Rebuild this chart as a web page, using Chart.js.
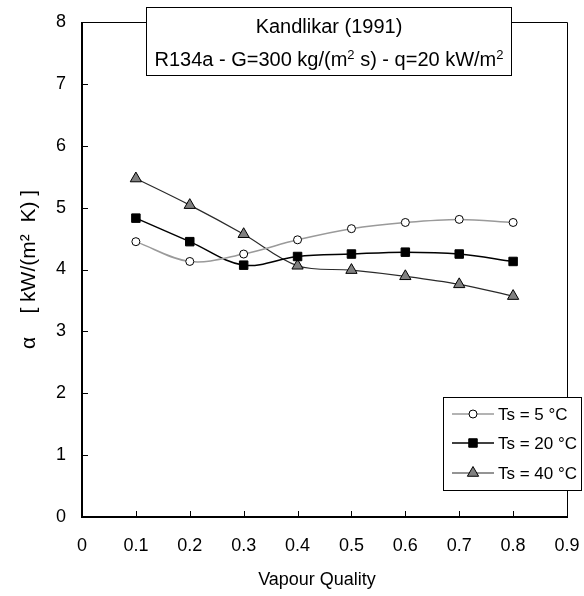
<!DOCTYPE html>
<html>
<head>
<meta charset="utf-8">
<script src="https://cdn.jsdelivr.net/npm/chart.js@4.4.0/dist/chart.umd.min.js"></script>
<style>
  body { margin: 0; background: #fff; }
</style>
</head>
<body>
<canvas id="myChart" width="584" height="596"></canvas>
<script>
// données
var qualite = [0.1, 0.2, 0.3, 0.4, 0.5, 0.6, 0.7, 0.8];
var alphaTs5 = [4.45, 4.13, 4.25, 4.48, 4.66, 4.76, 4.81, 4.76];
var alphaTs20 = [4.83, 4.45, 4.07, 4.21, 4.25, 4.28, 4.25, 4.13];
var alphaTs40 = [5.47, 5.04, 4.57, 4.06, 3.99, 3.89, 3.76, 3.57];
var nomsSeries = ["Ts = 5 °C", "Ts = 20 °C", "Ts = 40 °C"];
var titreLigne1 = "Kandlikar (1991)";
// morceaux de la 2e ligne : [texte, exposant ?]
var titreLigne2 = [["R134a - G=300 kg/(m", false], ["2", true], [" s) - q=20 kW/m", false], ["2", true]];
var titreX = "Vapour Quality   ";
var titreY = "\u03B1    [ kW/(m\u00B2  K) ]";
var xMin = 0, xMax = 0.9, xPas = 0.1;
var yMin = 0, yMax = 8, yPas = 1;

var police = "'Liberation Sans', Arial, sans-serif";

function points(ys) {
  return qualite.map(function (x, i) { return { x: x, y: ys[i] }; });
}

// cadre + petites graduations vers l'intérieur
var cadrePlugin = {
  id: "cadre",
  beforeDatasetsDraw: function (chart) {
    var ctx = chart.ctx;
    var a = chart.chartArea;
    var sx = chart.scales.x, sy = chart.scales.y;
    ctx.save();
    ctx.strokeStyle = "#000";
    // haut et droite, fins
    ctx.lineWidth = 1;
    ctx.beginPath();
    ctx.moveTo(a.left, a.top + 0.5);
    ctx.lineTo(a.right + 0.5, a.top + 0.5);
    ctx.lineTo(a.right + 0.5, a.bottom);
    ctx.stroke();
    // graduations
    ctx.beginPath();
    for (var v = yMin + yPas; v < yMax; v += yPas) {
      var py = Math.round(sy.getPixelForValue(v)) + 0.5;
      ctx.moveTo(a.left, py);
      ctx.lineTo(a.left + 6, py);
    }
    for (var k = 1; k <= Math.round((xMax - xMin) / xPas); k++) {
      var px = Math.round(sx.getPixelForValue(xMin + k * xPas)) + 0.5;
      ctx.moveTo(px, a.bottom);
      ctx.lineTo(px, a.bottom - 6);
    }
    ctx.stroke();
    // axes gauche et bas, épais
    ctx.lineWidth = 2;
    ctx.beginPath();
    ctx.moveTo(a.left, a.top);
    ctx.lineTo(a.left, a.bottom);
    ctx.lineTo(a.right + 1, a.bottom);
    ctx.stroke();
    ctx.restore();
  }
};

function dessinerMarqueur(ctx, ds, x, y) {
  ctx.save();
  ctx.fillStyle = ds.pointBackgroundColor;
  ctx.strokeStyle = ds.pointBorderColor;
  ctx.lineWidth = ds.pointBorderWidth;
  var r = ds.pointRadius;
  ctx.beginPath();
  if (ds.pointStyle === "circle") {
    ctx.arc(x, y, r, 0, Math.PI * 2);
  } else if (ds.pointStyle === "rect") {
    var s = r * Math.SQRT1_2;
    ctx.rect(x - s, y - s, 2 * s, 2 * s);
  } else {
    ctx.moveTo(x, y - r);
    ctx.lineTo(x + r * 0.866, y + r * 0.5);
    ctx.lineTo(x - r * 0.866, y + r * 0.5);
    ctx.closePath();
  }
  ctx.fill();
  ctx.stroke();
  ctx.restore();
}

// boîte de titre et légende, par-dessus le cadre
var boitesPlugin = {
  id: "boites",
  afterDraw: function (chart) {
    var ctx = chart.ctx;
    ctx.save();
    // titre
    var bx = 146.5, by = 7.5, bw = 365, bh = 68;
    ctx.fillStyle = "#fff";
    ctx.fillRect(bx, by, bw, bh);
    ctx.strokeStyle = "#000";
    ctx.lineWidth = 1;
    ctx.strokeRect(bx, by, bw, bh);
    var cx = bx + bw / 2;
    ctx.fillStyle = "#000";
    ctx.textBaseline = "alphabetic";
    ctx.font = "20px " + police;
    ctx.textAlign = "center";
    ctx.fillText(titreLigne1, cx, 33);
    // ligne 2 avec exposants
    var total = 0;
    titreLigne2.forEach(function (m) {
      ctx.font = (m[1] ? "13px " : "20px ") + police;
      total += ctx.measureText(m[0]).width;
    });
    var xx = cx - total / 2;
    ctx.textAlign = "left";
    titreLigne2.forEach(function (m) {
      ctx.font = (m[1] ? "13px " : "20px ") + police;
      ctx.fillText(m[0], xx, m[1] ? 59 : 66);
      xx += ctx.measureText(m[0]).width;
    });

    // légende
    var lx = 443.5, ly = 397.5, lw = 138, lh = 93;
    ctx.fillStyle = "#fff";
    ctx.fillRect(lx, ly, lw, lh);
    ctx.strokeRect(lx, ly, lw, lh);
    var lignesY = [414, 443, 473];
    ctx.font = "17px " + police;
    ctx.textBaseline = "middle";
    chart.data.datasets.forEach(function (ds, i) {
      var y = lignesY[i];
      ctx.strokeStyle = ds.borderColor;
      ctx.lineWidth = ds.borderWidth;
      ctx.beginPath();
      ctx.moveTo(452, y);
      ctx.lineTo(494, y);
      ctx.stroke();
      dessinerMarqueur(ctx, ds, 473, y);
      ctx.fillStyle = "#000";
      ctx.fillText(ds.label, 498, y + 1);
    });
    ctx.restore();
  }
};

var contexte = document.getElementById("myChart");
var graphe = new Chart(contexte, {
  type: "scatter",
  data: {
    datasets: [
      {
        label: nomsSeries[0],
        data: points(alphaTs5),
        showLine: true,
        tension: 0.35,
        borderColor: "#9a9a9a",
        borderWidth: 1.5,
        pointStyle: "circle",
        pointRadius: 4,
        pointBackgroundColor: "#fff",
        pointBorderColor: "#000",
        pointBorderWidth: 1
      },
      {
        label: nomsSeries[1],
        data: points(alphaTs20),
        showLine: true,
        tension: 0.35,
        borderColor: "#000",
        borderWidth: 1.5,
        pointStyle: "rect",
        pointRadius: 6,
        pointBackgroundColor: "#000",
        pointBorderColor: "#000",
        pointBorderWidth: 1
      },
      {
        label: nomsSeries[2],
        data: points(alphaTs40),
        showLine: true,
        tension: 0.35,
        borderColor: "#2a2a2a",
        borderWidth: 1.2,
        pointStyle: "triangle",
        pointRadius: 6.5,
        pointBackgroundColor: "#808080",
        pointBorderColor: "#000",
        pointBorderWidth: 1
      }
    ]
  },
  options: {
    responsive: false,
    animation: false,
    layout: { padding: { top: 22, right: 17, left: 0, bottom: 0 } },
    plugins: {
      legend: { display: false },
      tooltip: { enabled: false }
    },
    scales: {
      x: {
        type: "linear",
        min: xMin,
        max: xMax,
        grid: { display: false, drawTicks: false },
        border: { display: false },
        ticks: {
          stepSize: xPas,
          padding: 18,
          color: "#000",
          font: { size: 18, family: police },
          callback: function (v) { return Math.round(v * 10) / 10 + ""; }
        },
        title: {
          display: true,
          text: titreX,
          color: "#000",
          font: { size: 18, family: police },
          padding: { top: 0, bottom: 5 }
        },
        afterFit: function (s) {
          s.height = 79;
          s.paddingLeft = 0;
          s.paddingRight = 0;
        }
      },
      y: {
        min: yMin,
        max: yMax,
        grid: { display: false, drawTicks: false },
        border: { display: false },
        ticks: {
          stepSize: yPas,
          padding: 16,
          color: "#000",
          font: { size: 18, family: police }
        },
        title: {
          display: true,
          text: titreY,
          color: "#000",
          font: { size: 21, family: police },
          padding: { top: 17, bottom: 0 }
        },
        afterFit: function (s) {
          s.width = 82;
          s.paddingTop = 0;
          s.paddingBottom = 0;
        }
      }
    }
  },
  plugins: [cadrePlugin, boitesPlugin]
});
</script>
</body>
</html>
